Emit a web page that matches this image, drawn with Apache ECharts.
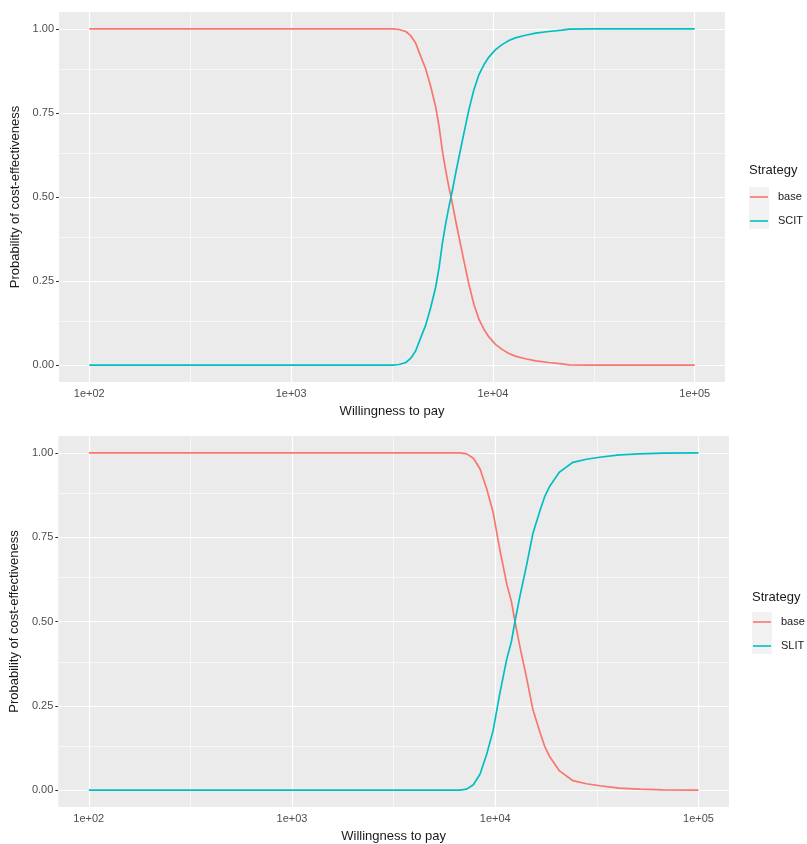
<!DOCTYPE html>
<html>
<head>
<meta charset="utf-8">
<script src="https://cdn.jsdelivr.net/npm/echarts@6/dist/echarts.min.js"></script>
<style>
  html, body { margin: 0; padding: 0; background: #fff; }
  #chart { width: 807px; height: 844px; }
</style>
</head>
<body>
<div id="chart"></div>
<script>
// top panel: base vs SCIT
var wtpTop = [100, 3180, 3430, 3700, 3910, 4140, 4390, 4650, 4910, 5200, 5410, 5610, 5830, 6050, 6300, 6530, 6790, 7180, 7600, 8050, 8530, 9020, 9550, 10300, 11100, 12000, 12900, 14500, 16300, 18900, 22000, 23800, 30000, 100000];
var baseTop = [1, 1, 0.998, 0.992, 0.98, 0.958, 0.918, 0.88, 0.83, 0.769, 0.71, 0.64, 0.58, 0.53, 0.48, 0.431, 0.381, 0.311, 0.241, 0.181, 0.136, 0.107, 0.084, 0.062, 0.047, 0.035, 0.027, 0.019, 0.013, 0.008, 0.004, 0.001, 0, 0];
var scitTop = [0, 0, 0.002, 0.008, 0.02, 0.042, 0.082, 0.12, 0.17, 0.231, 0.29, 0.36, 0.42, 0.47, 0.52, 0.569, 0.619, 0.689, 0.759, 0.819, 0.864, 0.893, 0.916, 0.938, 0.953, 0.965, 0.973, 0.981, 0.987, 0.992, 0.996, 0.999, 1, 1];

// bottom panel: base vs SLIT
var wtpBot = [100, 6700, 7230, 7800, 8410, 9080, 9770, 10500, 11400, 12000, 12500, 13200, 14300, 15300, 16600, 17500, 18500, 20700, 24100, 28100, 32600, 40800, 51200, 66700, 100000];
var baseBot = [1, 1, 0.997, 0.984, 0.953, 0.893, 0.822, 0.717, 0.61, 0.56, 0.5, 0.427, 0.329, 0.24, 0.171, 0.13, 0.1, 0.057, 0.028, 0.019, 0.013, 0.006, 0.003, 0.001, 0];
var slitBot = [0, 0, 0.003, 0.016, 0.047, 0.107, 0.178, 0.283, 0.39, 0.44, 0.5, 0.573, 0.671, 0.76, 0.829, 0.87, 0.9, 0.943, 0.972, 0.981, 0.987, 0.994, 0.997, 0.999, 1];

var xTicks = [100, 1000, 10000, 100000];
var xTickLabels = ['1e+02', '1e+03', '1e+04', '1e+05'];
var xMinor = [316.23, 3162.3, 31623];
var yTicks = [0, 0.25, 0.5, 0.75, 1];
var yTickLabels = ['0.00', '0.25', '0.50', '0.75', '1.00'];
var yMinor = [0.125, 0.375, 0.625, 0.875];

var red = '#F8766D';
var teal = '#00BFC4';
var panelBg = '#EBEBEB';

var chartDom = document.getElementById('chart');
var myChart = echarts.init(chartDom);

function pairs(xs, ys) {
  return xs.map(function (x, i) { return [x, ys[i]]; });
}

// white panel grid (major + minor), ggplot style
function gridLines(idx) {
  var data = [];
  xTicks.forEach(function (v) { data.push({ xAxis: v, lineStyle: { width: 1.2 } }); });
  xMinor.forEach(function (v) { data.push({ xAxis: v, lineStyle: { width: 0.6 } }); });
  yTicks.forEach(function (v) { data.push({ yAxis: v, lineStyle: { width: 1.2 } }); });
  yMinor.forEach(function (v) { data.push({ yAxis: v, lineStyle: { width: 0.6 } }); });
  return {
    type: 'line',
    xAxisIndex: idx,
    yAxisIndex: idx,
    data: [],
    z: 1,
    silent: true,
    markLine: {
      silent: true,
      z: 1,
      symbol: 'none',
      animation: false,
      label: { show: false },
      lineStyle: { color: '#ffffff', type: 'solid' },
      data: data
    }
  };
}

function xAxisFor(idx) {
  return {
    type: 'log',
    gridIndex: idx,
    min: Math.pow(10, 1.85),
    max: Math.pow(10, 5.15),
    name: 'Willingness to pay',
    nameLocation: 'middle',
    nameGap: 23,
    nameTextStyle: { color: '#1a1a1a', fontSize: 13, fontFamily: 'Liberation Sans' },
    axisLine: { show: false },
    axisTick: { show: true, length: 3, customValues: xTicks, lineStyle: { color: '#333' } },
    axisLabel: {
      customValues: xTicks,
      color: '#4D4D4D',
      fontSize: 11,
      fontFamily: 'Liberation Sans',
      margin: 6,
      formatter: function (v) { return xTickLabels[xTicks.indexOf(Math.round(v))] || ''; }
    },
    splitLine: { show: false },
    minorSplitLine: { show: false }
  };
}

function yAxisFor(idx) {
  return {
    type: 'value',
    gridIndex: idx,
    min: -0.05,
    max: 1.05,
    name: 'Probability of cost-effectiveness',
    nameLocation: 'middle',
    nameGap: 33,
    nameTextStyle: { color: '#1a1a1a', fontSize: 13, fontFamily: 'Liberation Sans' },
    axisLine: { show: false },
    axisTick: { show: true, length: 3, customValues: yTicks, lineStyle: { color: '#333' } },
    axisLabel: {
      customValues: yTicks,
      color: '#4D4D4D',
      fontSize: 11,
      fontFamily: 'Liberation Sans',
      margin: 5,
      formatter: function (v) {
        var i = yTicks.indexOf(Math.round(v * 100) / 100);
        return i >= 0 ? yTickLabels[i] : '';
      }
    },
    splitLine: { show: false }
  };
}

function legendFor(left, top, names) {
  return {
    orient: 'vertical',
    left: left,
    top: top,
    padding: 0,
    icon: 'rect',
    itemWidth: 18,
    itemHeight: 1.6,
    itemGap: 10,
    data: names,
    textStyle: { color: '#1a1a1a', fontSize: 11, fontFamily: 'Liberation Sans', padding: [0, 0, 0, 5], lineHeight: 14 },
    selectedMode: false
  };
}

function curve(name, idx, xs, ys, color) {
  return {
    name: name, type: 'line', xAxisIndex: idx, yAxisIndex: idx,
    data: pairs(xs, ys), symbol: 'none', showSymbol: false, z: 3,
    lineStyle: { color: color, width: 1.7 }, itemStyle: { color: color }
  };
}

var option = {
  animation: false,
  backgroundColor: '#ffffff',
  grid: [
    { left: 59, top: 12, width: 666, height: 370, show: true, backgroundColor: panelBg, borderWidth: 0 },
    { left: 56, top: 436, width: 673, height: 372, show: true, backgroundColor: panelBg, borderWidth: 0 }
  ],
  xAxis: [xAxisFor(0), xAxisFor(1)],
  yAxis: [yAxisFor(0), yAxisFor(1)],
  legend: [legendFor(750, 190, ['base', 'SCIT']), legendFor(753, 615, ['base', 'SLIT'])],
  graphic: [
    { type: 'rect', left: 749, top: 187, shape: { width: 20, height: 42 }, style: { fill: '#F2F2F2' }, z: -1 },
    { type: 'text', left: 749, top: 164, style: { text: 'Strategy', fill: '#1a1a1a', fontSize: 13, fontFamily: 'Liberation Sans' } },
    { type: 'rect', left: 752, top: 612, shape: { width: 20, height: 42 }, style: { fill: '#F2F2F2' }, z: -1 },
    { type: 'text', left: 752, top: 591, style: { text: 'Strategy', fill: '#1a1a1a', fontSize: 13, fontFamily: 'Liberation Sans' } }
  ],
  series: [
    gridLines(0),
    gridLines(1),
    curve('base', 0, wtpTop, baseTop, red),
    curve('SCIT', 0, wtpTop, scitTop, teal),
    curve('base', 1, wtpBot, baseBot, red),
    curve('SLIT', 1, wtpBot, slitBot, teal)
  ]
};

option && myChart.setOption(option);
window.addEventListener('resize', function () {
  myChart.resize();
});
</script>
</body>
</html>
